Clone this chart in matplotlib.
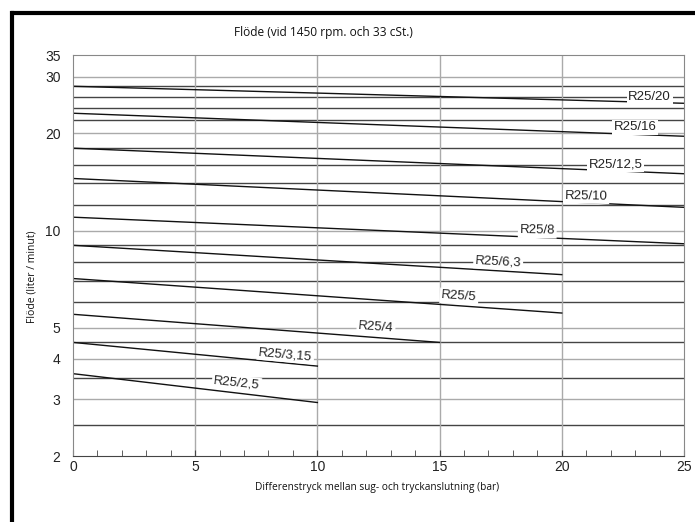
import matplotlib
matplotlib.use('Agg')
import matplotlib.pyplot as plt
from matplotlib.lines import Line2D

# Pump flow curves (flow in l/min vs differential pressure in bar)
pump_names = ['R25/20', 'R25/16', 'R25/12,5', 'R25/10', 'R25/8',
              'R25/6,3', 'R25/5', 'R25/4', 'R25/3,15', 'R25/2,5']
pump_x = [[0, 25], [0, 25], [0, 25], [0, 25], [0, 25],
          [0, 20], [0, 20], [0, 15], [0, 10], [0, 10]]
pump_flow = [[28.0, 24.8], [23.1, 19.6], [18.0, 15.0], [14.5, 11.8],
             [11.0, 9.1], [9.0, 7.3], [7.1, 5.55], [5.5, 4.5],
             [4.5, 3.8], [3.6, 2.93]]

y_ticks = [2, 3, 4, 5, 10, 20, 30, 35]
x_ticks = [0, 5, 10, 15, 20, 25]
grid_light = [3, 4, 5, 10, 20, 30]
grid_dark = [2.5, 3.5, 4.5, 6, 7, 8, 9, 12, 14, 16, 18, 22, 24, 26, 28]

title = 'Flöde (vid 1450 rpm. och 33 cSt.)'
x_label = 'Differenstryck mellan sug- och tryckanslutning (bar)'
y_label = 'Flöde (liter / minut)'

# label placement: (x, y, rotation) in data coords
label_pos = [(23.6, 26, 0), (23.0, 20.9, 0), (22.2, 16, 0), (21.0, 12.8, -1),
             (19.0, 10, -1), (17.4, 8, -3), (15.8, 6.24, -4),
             (12.4, 5, -4), (8.7, 4.13, -5), (6.7, 3.36, -6)]

label_font = 'Liberation Sans'
text_font = ['Open Sans', 'DejaVu Sans']

fig = plt.figure(figsize=(6.95, 5.22), dpi=100)
ax = fig.add_axes([0.105, 0.1264, 0.8791, 0.7682])

for v in grid_light:
    ax.axhline(v, color='#aaaaaa', linewidth=1.0, zorder=1)
for v in grid_dark:
    ax.axhline(v, color='#444444', linewidth=1.0, zorder=1)
for v in x_ticks[1:-1]:
    ax.axvline(v, color='#aaaaaa', linewidth=1.0, zorder=1)

for xs, ys in zip(pump_x, pump_flow):
    ax.plot(xs, ys, color='#111111', linewidth=1.0, zorder=2)

for name, (lx, ly, rot) in zip(pump_names, label_pos):
    ax.text(lx, ly, name, ha='center', va='center', rotation=rot,
            fontsize=9.5, family=label_font, color='#222222', zorder=3,
            bbox=dict(facecolor='white', edgecolor='none', pad=1.2))

ax.set_yscale('log')
ax.set_xlim(0, 25)
ax.set_ylim(2, 35)
ax.set_yticks(y_ticks)
ax.set_yticklabels([str(v) for v in y_ticks])
ax.yaxis.set_minor_locator(matplotlib.ticker.NullLocator())
ax.set_xticks(x_ticks)
ax.set_xticks(range(0, 26), minor=True)
ax.tick_params(axis='y', length=0, pad=9, labelsize=10)
ax.tick_params(axis='x', which='both', direction='in', length=4,
               color='#444444', pad=3, labelsize=10)
for lab in ax.get_xticklabels() + ax.get_yticklabels():
    lab.set_family(label_font)
    lab.set_color('#222222')

for side in ['top', 'left', 'right']:
    ax.spines[side].set_color('#888888')
ax.spines['bottom'].set_color('#444444')

fig.text(0.465, 0.937, title, ha='center', va='center', fontsize=8.6,
         family=text_font, color='#111111')
fig.text(0.542, 0.067, x_label, ha='center', va='center', fontsize=7.3,
         family=text_font, color='#111111')
fig.text(0.046, 0.469, y_label, ha='center', va='center', fontsize=7.5,
         rotation=90, family=text_font, color='#111111')

# thick outer frame, only left and top edges visible in the crop
fx, fy = 12 / 695, 1 - 13 / 522
fig.add_artist(Line2D([fx, fx], [0, fy], transform=fig.transFigure,
                      color='black', linewidth=3))
fig.add_artist(Line2D([fx - 1.5 / 695, 1], [fy, fy],
                      transform=fig.transFigure, color='black',
                      linewidth=3, solid_capstyle='butt'))

fig.savefig('out.png', dpi=100)
